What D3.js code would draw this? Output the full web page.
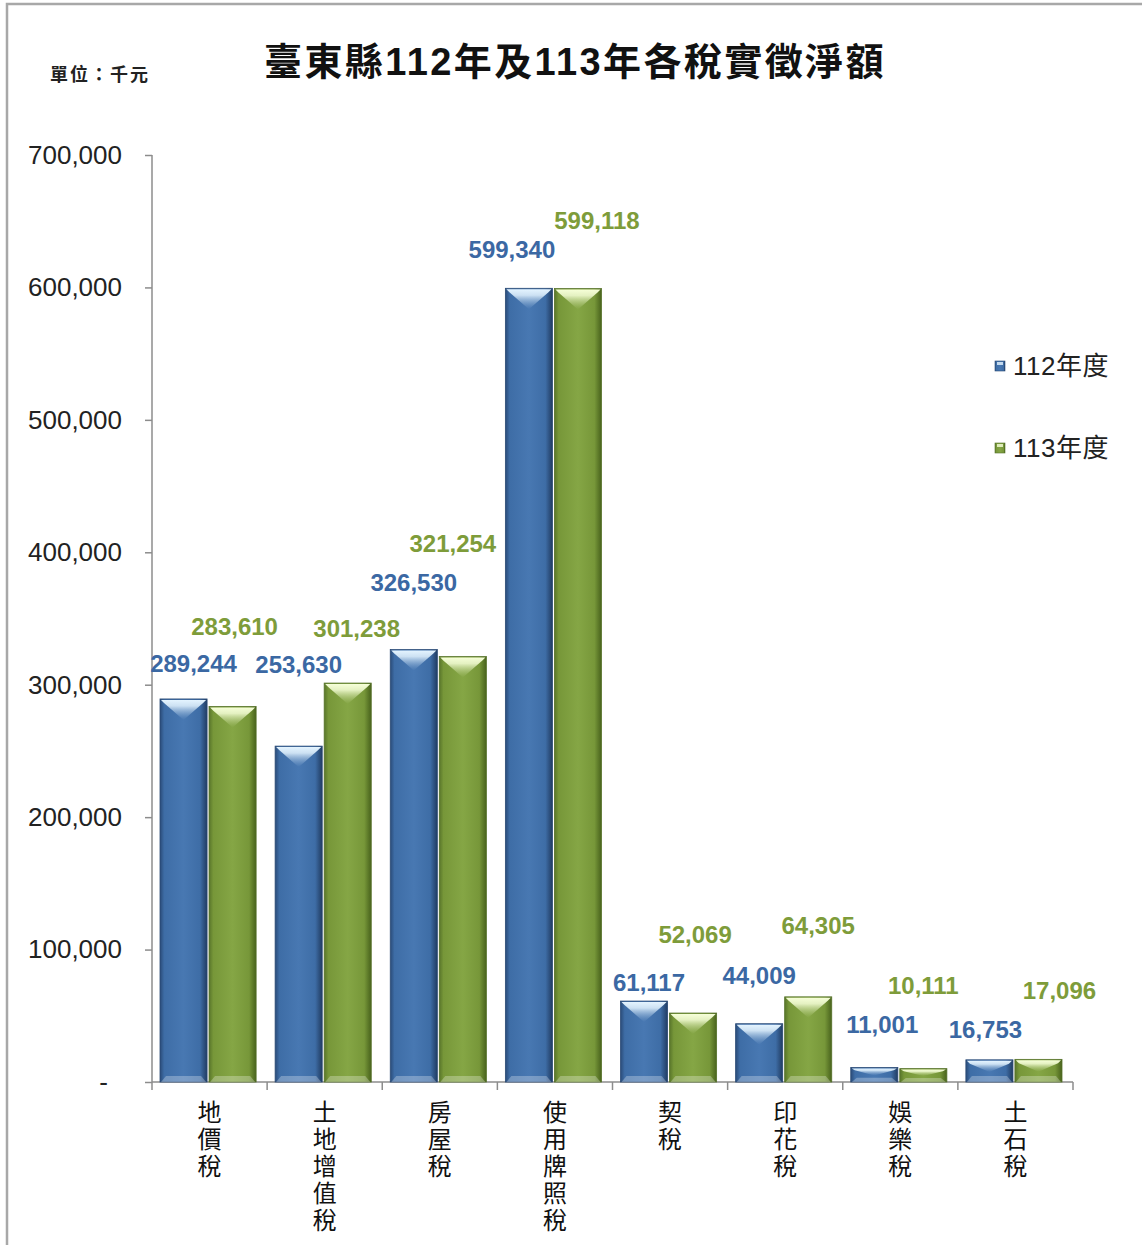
<!DOCTYPE html>
<html>
<head>
<meta charset="utf-8">
<script src="https://cdn.jsdelivr.net/npm/d3@7"></script>
<style>
  body { margin: 0; background: #fff; }
  svg { display: block; }
</style>
</head>
<body>
<svg id="chart" width="1142" height="1245"></svg>
<script>
const categories = ['地價稅', '土地增值稅', '房屋稅', '使用牌照稅', '契稅', '印花稅', '娛樂稅', '土石稅'];
const seriesNames = ['112年度', '113年度'];
const values112 = [289244, 253630, 326530, 599340, 61117, 44009, 11001, 16753];
const values113 = [283610, 301238, 321254, 599118, 52069, 64305, 10111, 17096];
const yTicks = [0, 100000, 200000, 300000, 400000, 500000, 600000, 700000];

// hand-placed label offsets from each bar's top centre (as in the original sheet)
const labelShift112 = [[10, -35], [0, -82], [0, -67], [-17, -39], [5, -19], [0, -48], [8, -43], [-4, -30]];
const labelShift113 = [[2, -80], [9, -55], [-10, -113], [19, -68], [2, -79], [10, -71], [0, -83], [21, -69]];

const svg = d3.select('#chart');
const defs = svg.append('defs');

const palette = {
  '112年度': { edgeL: '#2a4b78', mid: '#3e6da6', light: '#4878b2', edgeR: '#213c62', top: '#e4f4ff', label: '#3b68a3', stroke: '#2a4a75' },
  '113年度': { edgeL: '#58752a', mid: '#779739', light: '#85a645', edgeR: '#48621c', top: '#f6ffd8', label: '#7e9c3a', stroke: '#56722a' }
};

seriesNames.forEach((s, i) => {
  const c = palette[s];
  const body = defs.append('linearGradient').attr('id', 'body' + i)
    .attr('x1', 0).attr('x2', 1).attr('y1', 0).attr('y2', 0);
  [[0, c.edgeL], [0.09, c.mid], [0.5, c.light], [0.85, c.mid], [1, c.edgeR]].forEach(([o, col]) =>
    body.append('stop').attr('offset', o).attr('stop-color', col));
  const top = defs.append('linearGradient').attr('id', 'top' + i)
    .attr('x1', 0).attr('x2', 0).attr('y1', 0).attr('y2', 1);
  top.append('stop').attr('offset', 0).attr('stop-color', c.top);
  top.append('stop').attr('offset', 0.3).attr('stop-color', c.top).attr('stop-opacity', 0.85);
  top.append('stop').attr('offset', 1).attr('stop-color', c.light).attr('stop-opacity', 0.4);
});

// frame
svg.append('rect').attr('x', 7).attr('y', 4).attr('width', 1150).attr('height', 1260)
  .attr('fill', 'none').attr('stroke', '#a8a8a8').attr('stroke-width', 2.5);

const x = d3.scaleBand().domain(categories).range([152, 1073]).padding(0);
const xSub = d3.scaleBand().domain(seriesNames).range([8, x.bandwidth() - 11]).paddingInner(0.04);
const y = d3.scaleLinear().domain([0, 700000]).range([1082, 155]);

// title
svg.append('text').attr('x', 575).attr('y', 62)
  .attr('text-anchor', 'middle').attr('dominant-baseline', 'central')
  .style('font-family', '"Liberation Sans", "Noto Sans CJK TC", sans-serif')
  .style('font-size', '38px').style('font-weight', 'bold').style('letter-spacing', '2.4px')
  .attr('fill', '#111')
  .text('臺東縣112年及113年各稅實徵淨額');

svg.append('text').attr('x', 50).attr('y', 73)
  .attr('dominant-baseline', 'central')
  .style('font-family', '"Noto Sans CJK TC", sans-serif')
  .style('font-size', '18px').style('font-weight', 'bold').style('letter-spacing', '2px')
  .attr('fill', '#222')
  .text('單位：千元');

// y axis
const yAxis = d3.axisLeft(y).tickValues(yTicks).tickSize(7).tickPadding(23)
  .tickFormat(d => d === 0 ? '-' : d3.format(',')(d));
const gy = svg.append('g').attr('transform', 'translate(152,0)').call(yAxis);
gy.selectAll('path, line').attr('stroke', '#8c8c8c').attr('stroke-width', 1.5);
gy.select('.domain').attr('d', `M0,${y(700000)}V${y(0)}`);
gy.selectAll('text')
  .style('font-family', '"Liberation Sans", sans-serif').style('font-size', '26px').attr('fill', '#222')
  .attr('dx', d => d === 0 ? -14 : 0);

// x axis
const gx = svg.append('g').attr('transform', `translate(0,${y(0)})`);
gx.append('line').attr('x1', 152).attr('x2', 1073).attr('y1', 0).attr('y2', 0)
  .attr('stroke', '#8c8c8c').attr('stroke-width', 1.5);
gx.selectAll('line.tick').data(categories.concat(['end'])).join('line').attr('class', 'tick')
  .attr('x1', (d, i) => i < categories.length ? x(d) : x.range()[1])
  .attr('x2', (d, i) => i < categories.length ? x(d) : x.range()[1])
  .attr('y1', 0).attr('y2', 8).attr('stroke', '#8c8c8c').attr('stroke-width', 1.5);

// vertical category labels
svg.append('g').selectAll('text').data(categories).join('text')
  .attr('x', d => x(d) + x.bandwidth() / 2)
  .attr('y', y(0) + 18)
  .style('writing-mode', 'vertical-rl').style('text-orientation', 'upright')
  .style('letter-spacing', '3px')
  .style('font-family', '"Noto Sans CJK TC", sans-serif').style('font-size', '24px')
  .attr('fill', '#111').text(d => d);

// bars
const seriesData = [values112, values113];
const shifts = [labelShift112, labelShift113];
seriesNames.forEach((s, si) => {
  const c = palette[s];
  const rows = categories.map((cat, i) => ({ cat, value: seriesData[si][i], shift: shifts[si][i] }));
  const g = svg.append('g');
  const bar = g.selectAll('g.bar').data(rows).join('g').attr('class', 'bar');
  const w = xSub.bandwidth();
  bar.each(function (d) {
    const el = d3.select(this);
    const x0 = x(d.cat) + xSub(s), x1 = x0 + w;
    const top = y(d.value), bot = y(0), h = bot - top;
    el.append('rect').attr('x', x0).attr('y', top).attr('width', w).attr('height', h)
      .attr('fill', `url(#body${si})`).attr('stroke', c.stroke).attr('stroke-width', 0.8);
    const depth = Math.min(21, h * 0.55);
    const band = Math.min(4, depth * 0.35);
    el.append('path')
      .attr('d', `M${x0 + 1},${top + 1}L${x1 - 1},${top + 1}L${x1 - 4},${top + band}L${(x0 + x1) / 2},${top + depth}L${x0 + 4},${top + band}Z`)
      .attr('fill', `url(#top${si})`);
    const bd = Math.min(6, h * 0.3);
    el.append('path')
      .attr('d', `M${x0 + 1},${bot}L${x1 - 1},${bot}L${x1 - 6},${bot - bd}L${x0 + 6},${bot - bd}Z`)
      .attr('fill', '#ffffff').attr('fill-opacity', 0.28);
    el.append('text')
      .attr('x', (x0 + x1) / 2 + d.shift[0]).attr('y', top + d.shift[1])
      .attr('text-anchor', 'middle').attr('dominant-baseline', 'central')
      .style('font-family', '"Liberation Sans", sans-serif').style('font-size', '24px')
      .style('font-weight', 'bold').attr('fill', c.label)
      .text(d3.format(',')(d.value));
  });
});

// legend
const legend = svg.append('g');
seriesNames.forEach((s, i) => {
  const ly = 366 + i * 82;
  legend.append('rect').attr('x', 995).attr('y', ly - 5).attr('width', 10).attr('height', 10)
    .attr('fill', `url(#body${i})`).attr('stroke', palette[s].stroke).attr('stroke-width', 0.6);
  legend.append('rect').attr('x', 997).attr('y', ly - 4).attr('width', 6).attr('height', 3)
    .attr('fill', palette[s].top).attr('fill-opacity', 0.8);
  legend.append('text').attr('x', 1013).attr('y', ly)
    .attr('dominant-baseline', 'central')
    .style('font-family', '"Liberation Sans", "Noto Sans CJK TC", sans-serif')
    .style('font-size', '26px').style('letter-spacing', '0.5px').attr('fill', '#222').text(s);
});
</script>
</body>
</html>
